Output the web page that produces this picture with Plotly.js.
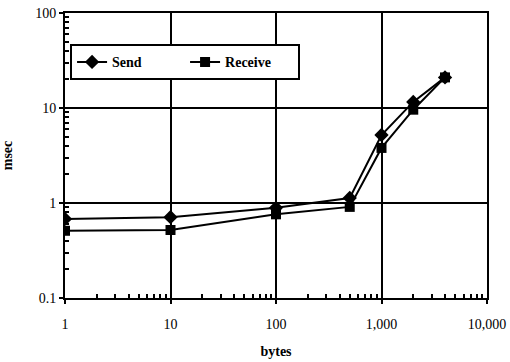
<!DOCTYPE html>
<html><head><meta charset="utf-8">
<script src="https://cdn.plot.ly/plotly-3.0.1.min.js"></script>
<style>html,body{margin:0;padding:0;background:#fff}#c{width:510px;height:362px}</style>
</head><body><div id="c"></div>
<script>
const bytes = [1, 10, 100, 500, 1000, 2000, 4000];
const sendMsec = [0.68, 0.71, 0.89, 1.13, 5.2, 11.6, 21];
const receiveMsec = [0.51, 0.52, 0.76, 0.91, 3.8, 9.6, 21];
const xTickVals = [1, 10, 100, 1000, 10000];
const xTickText = ['1', '10', '100', '1,000', '10,000'];
const yTickVals = [0.1, 1, 10, 100];
const yTickText = ['0.1', '1', '10', '100'];

function minorVals(lo, hi) {
  const out = [];
  for (let d = lo; d < hi; d *= 10) for (let k = 2; k <= 9; k++) out.push(d * k);
  return out;
}

const fam = 'Liberation Serif, Times New Roman, serif';
const font = {family: fam, color: '#000', size: 13};
const traces = [
  {x: bytes, y: sendMsec, name: 'Send', mode: 'lines+markers', type: 'scatter',
   line: {color: '#000', width: 2}, marker: {symbol: 'diamond', size: 11, color: '#000'}},
  {x: bytes, y: receiveMsec, name: 'Receive', mode: 'lines+markers', type: 'scatter',
   line: {color: '#000', width: 2}, marker: {symbol: 'square', size: 10, color: '#000'}}
];
const axisCommon = {type: 'log', showline: true, mirror: true, linecolor: '#000', linewidth: 2,
  showgrid: true, gridcolor: '#000', gridwidth: 2, zeroline: false,
  ticks: 'outside', ticklen: 4, tickcolor: '#000', tickwidth: 2, tickfont: {family: fam, size: 14, color: '#000'}};
const layout = {
  width: 510, height: 362, paper_bgcolor: '#fff', plot_bgcolor: '#fff', font: font,
  margin: {l: 65, r: 23, t: 13, b: 64},
  showlegend: true,
  legend: {orientation: 'h', x: 0.012, y: 0.89, xanchor: 'left', yanchor: 'top',
    bordercolor: '#000', borderwidth: 2, bgcolor: '#fff', entrywidth: 68, entrywidthmode: 'pixels',
    font: {family: fam, size: 14, color: '#000', weight: 'bold'}},
  xaxis: Object.assign({}, axisCommon, {range: [0, 4], tickvals: xTickVals, ticktext: xTickText,
    ticklabelstandoff: 8,
    minor: {ticks: 'inside', ticklen: 4, tickcolor: '#000', tickwidth: 2, tickvals: minorVals(1, 10000), showgrid: false},
    title: {text: 'bytes', font: {family: fam, size: 14, color: '#000', weight: 'bold'}, standoff: 15}}),
  yaxis: Object.assign({}, axisCommon, {range: [-1, 2], tickvals: yTickVals, ticktext: yTickText,
    minor: {ticks: 'inside', ticklen: 4, tickcolor: '#000', tickwidth: 2, tickvals: minorVals(0.1, 100), showgrid: false},
    title: {text: 'msec', font: {family: fam, size: 14, color: '#000', weight: 'bold'}, standoff: 20}})
};
Plotly.newPlot('c', traces, layout, {staticPlot: true, displayModeBar: false});
</script></body></html>
